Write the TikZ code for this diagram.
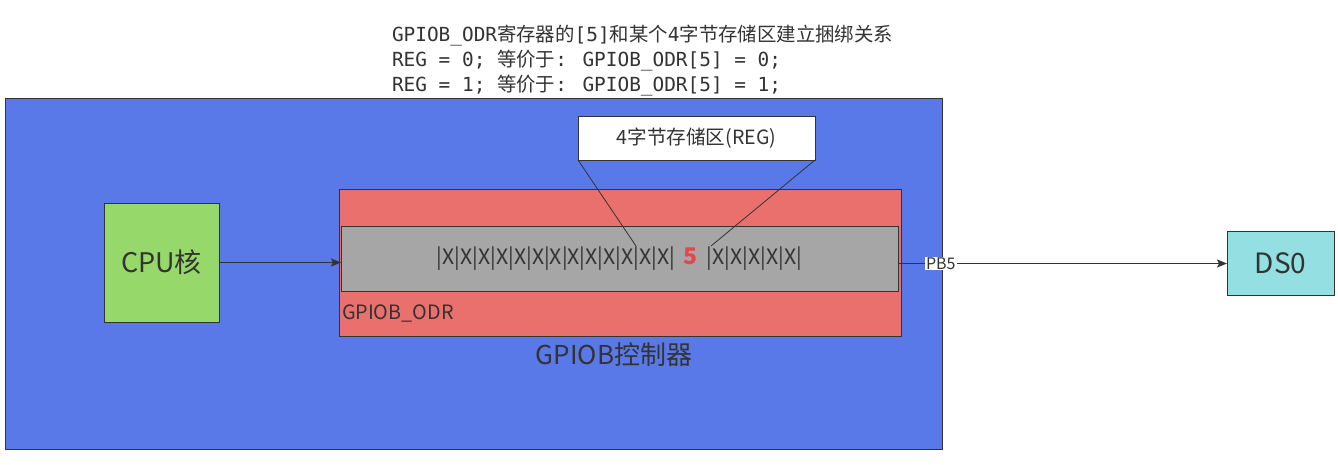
\documentclass[tikz,border=0pt]{standalone}
\usepackage{fontspec}
\setmainfont{Noto Sans CJK SC}
\newfontfamily\cjk{Noto Sans CJK SC}
\newfontfamily\monof{DejaVu Sans Mono}
\usetikzlibrary{arrows.meta}
\definecolor{ink}{HTML}{333333}
\definecolor{blueC}{HTML}{5A79E8}
\definecolor{redC}{HTML}{EA706E}
\definecolor{grayC}{HTML}{A6A6A6}
\definecolor{greenC}{HTML}{97D86A}
\definecolor{cyanC}{HTML}{93DFE1}
\definecolor{fiveC}{HTML}{E8454A}
\tikzset{
  panel/.style={draw=ink, line width=1pt, inner sep=0pt, outer sep=0pt},
  lbl/.style={text=ink, inner sep=0pt, outer sep=0pt},
  conn/.style={draw=ink, line width=1pt},
  arr/.style={conn, -{Stealth[length=10pt,width=8pt,inset=2pt]}},
  topline/.style={lbl, anchor=base west, font=\fontsize{19.4}{22}\selectfont},
}
\begin{document}
\begin{tikzpicture}[x=1pt,y=-1pt]
\useasboundingbox[fill=white] (0,0) rectangle (1338,464);
% controller
\node[panel, fill=blueC, minimum width=937pt, minimum height=351pt] (ctrl) at (473.5,273.5) {};
\node[panel, fill=redC, minimum width=562pt, minimum height=147pt] (odr) at (620,262.5) {};
\node[panel, fill=grayC, minimum width=557pt, minimum height=65pt] (reg) at (619.5,258.5) {};
\node[lbl, font=\fontsize{21.2}{24}\selectfont] (bits) at (619.5,259)
  {|X|X|X|X|X|X|X|X|X|X|X|X|X|\hspace{9pt}{\fontsize{23}{24}\selectfont\bfseries\color{fiveC}5}\hspace{9pt}|X|X|X|X|X|};
\node[lbl, anchor=west, font=\fontsize{19.8}{22}\selectfont] (odrlbl) at (342,313) {GPIOB\_ODR};
\node[lbl, font=\fontsize{26}{30}\selectfont] (ctrllbl) at (614,355) {GPIOB控制器};
% top text
\node[topline] (t1) at (392,41) {\monof GPIOB\_ODR\cjk 寄存器的\monof [5]\cjk 和某个\monof 4\cjk 字节存储区建立捆绑关系};
\node[topline] (t2) at (392,66) {\monof REG = 0; \cjk 等价于\monof : GPIOB\_ODR[5] = 0;};
\node[topline] (t3) at (392,91) {\monof REG = 1; \cjk 等价于\monof : GPIOB\_ODR[5] = 1;};
% REG callout
\node[panel, fill=white, minimum width=237pt, minimum height=44pt, font=\fontsize{19.6}{22}\selectfont, text=ink] (mem) at (696.5,138) {4字节存储区(REG)};
\coordinate (p1) at (636,246);
\coordinate (p2) at (711,246);
\draw[conn, line width=0.8pt] (mem.south west) -- (p1);
\draw[conn, line width=0.8pt] (mem.south east) -- (p2);
% CPU
\node[panel, fill=greenC, minimum width=115pt, minimum height=119pt, font=\fontsize{27}{32}\selectfont, text=ink] (cpu) at (161.5,262.5) {CPU核};
\draw[arr] (cpu.east) -- (cpu.east -| reg.west);
% DS0
\node[panel, fill=cyanC, minimum width=107pt, minimum height=64pt, font=\fontsize{28}{32}\selectfont, text=ink] (ds) at (1280.5,263.5) {DS0};
\draw[arr] (reg.east |- ds.west) -- node[pos=0.13, fill=white, inner sep=1pt, text=ink, font=\fontsize{16}{18}\selectfont] (pb) {PB5} (ds.west);
\end{tikzpicture}
\end{document}
